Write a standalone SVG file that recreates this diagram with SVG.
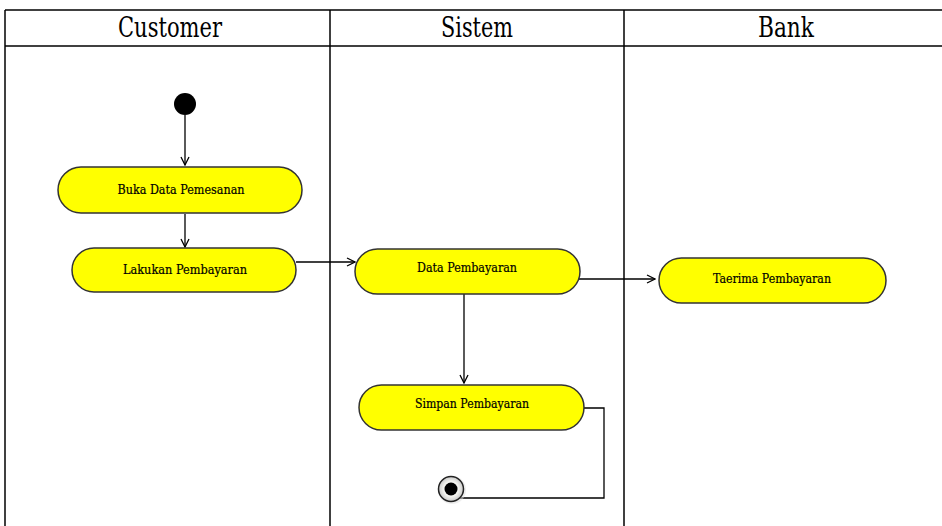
<svg xmlns="http://www.w3.org/2000/svg" width="942" height="526" viewBox="0 0 942 526">
<defs>
<marker id="arr" viewBox="0 0 10 10" refX="9" refY="5" markerWidth="10" markerHeight="10" markerUnits="userSpaceOnUse" orient="auto">
<path d="M1,1 L9,5 L1,9" fill="none" stroke="#000" stroke-width="1.3"/>
</marker>
<radialGradient id="endg" cx="0.5" cy="0.5" r="0.5">
<stop offset="0.6" stop-color="#f4f4f0"/>
<stop offset="1" stop-color="#c8c8c8"/>
</radialGradient>
</defs>
<style>
.lane{fill:none;stroke:#000;stroke-width:1.5}
.hdr{font-family:"DejaVu Serif","Liberation Serif",serif;font-size:27px;fill:#000;text-anchor:middle}
.act{fill:#ffff00;stroke:#333;stroke-width:1.5}
.lbl{font-family:"DejaVu Serif","Liberation Serif",serif;font-size:12px;fill:#000;text-anchor:middle;stroke:#000;stroke-width:0.2}
.con{fill:none;stroke:#000;stroke-width:1.3}
</style>
<rect width="942" height="526" fill="#fff"/>
<g id="swimlanes">
<line class="lane" x1="5" y1="10" x2="942" y2="10"/>
<line class="lane" x1="5" y1="46" x2="942" y2="46"/>
<line class="lane" x1="5" y1="10" x2="5" y2="526"/>
<line class="lane" x1="330" y1="10" x2="330" y2="526"/>
<line class="lane" x1="624" y1="10" x2="624" y2="526"/>
<text class="hdr" x="170" y="37" textLength="104" lengthAdjust="spacingAndGlyphs">Customer</text>
<text class="hdr" x="477" y="37" textLength="72" lengthAdjust="spacingAndGlyphs">Sistem</text>
<text class="hdr" x="786" y="37" textLength="56" lengthAdjust="spacingAndGlyphs">Bank</text>
</g>
<g id="connectors">
<line class="con" x1="185" y1="115" x2="185" y2="165" marker-end="url(#arr)"/>
<line class="con" x1="185" y1="214" x2="185" y2="247" marker-end="url(#arr)"/>
<line class="con" x1="296" y1="262" x2="355" y2="262" marker-end="url(#arr)"/>
<line class="con" x1="579" y1="279" x2="655" y2="279" marker-end="url(#arr)"/>
<line class="con" x1="464" y1="294" x2="464" y2="383" marker-end="url(#arr)"/>
<polyline class="con" points="584,408 604,408 604,498 458,498"/>
</g>
<g id="start">
<circle cx="185" cy="104" r="11" fill="#000"/>
</g>
<g id="buka">
<rect class="act" x="58" y="167" width="244" height="46" rx="23"/>
<text class="lbl" x="181" y="194" textLength="127" lengthAdjust="spacingAndGlyphs">Buka Data Pemesanan</text>
</g>
<g id="lakukan">
<rect class="act" x="72" y="248" width="224" height="44" rx="22"/>
<text class="lbl" x="185" y="274" textLength="124" lengthAdjust="spacingAndGlyphs">Lakukan Pembayaran</text>
</g>
<g id="data">
<rect class="act" x="355" y="249" width="225" height="45" rx="22.5"/>
<text class="lbl" x="467" y="272" textLength="100" lengthAdjust="spacingAndGlyphs">Data Pembayaran</text>
</g>
<g id="terima">
<rect class="act" x="659" y="258" width="227" height="45" rx="22.5"/>
<text class="lbl" x="772" y="283" textLength="118" lengthAdjust="spacingAndGlyphs">Taerima Pembayaran</text>
</g>
<g id="simpan">
<rect class="act" x="359" y="385" width="225" height="45" rx="22.5"/>
<text class="lbl" x="472" y="408" textLength="114" lengthAdjust="spacingAndGlyphs">Simpan Pembayaran</text>
</g>
<g id="end">
<circle cx="452" cy="490" r="14" fill="#ddd" opacity="0.5"/>
<circle cx="451" cy="489" r="12.5" fill="url(#endg)" stroke="#222" stroke-width="1.5"/>
<circle cx="451" cy="489" r="6.5" fill="#000"/>
</g>
</svg>
